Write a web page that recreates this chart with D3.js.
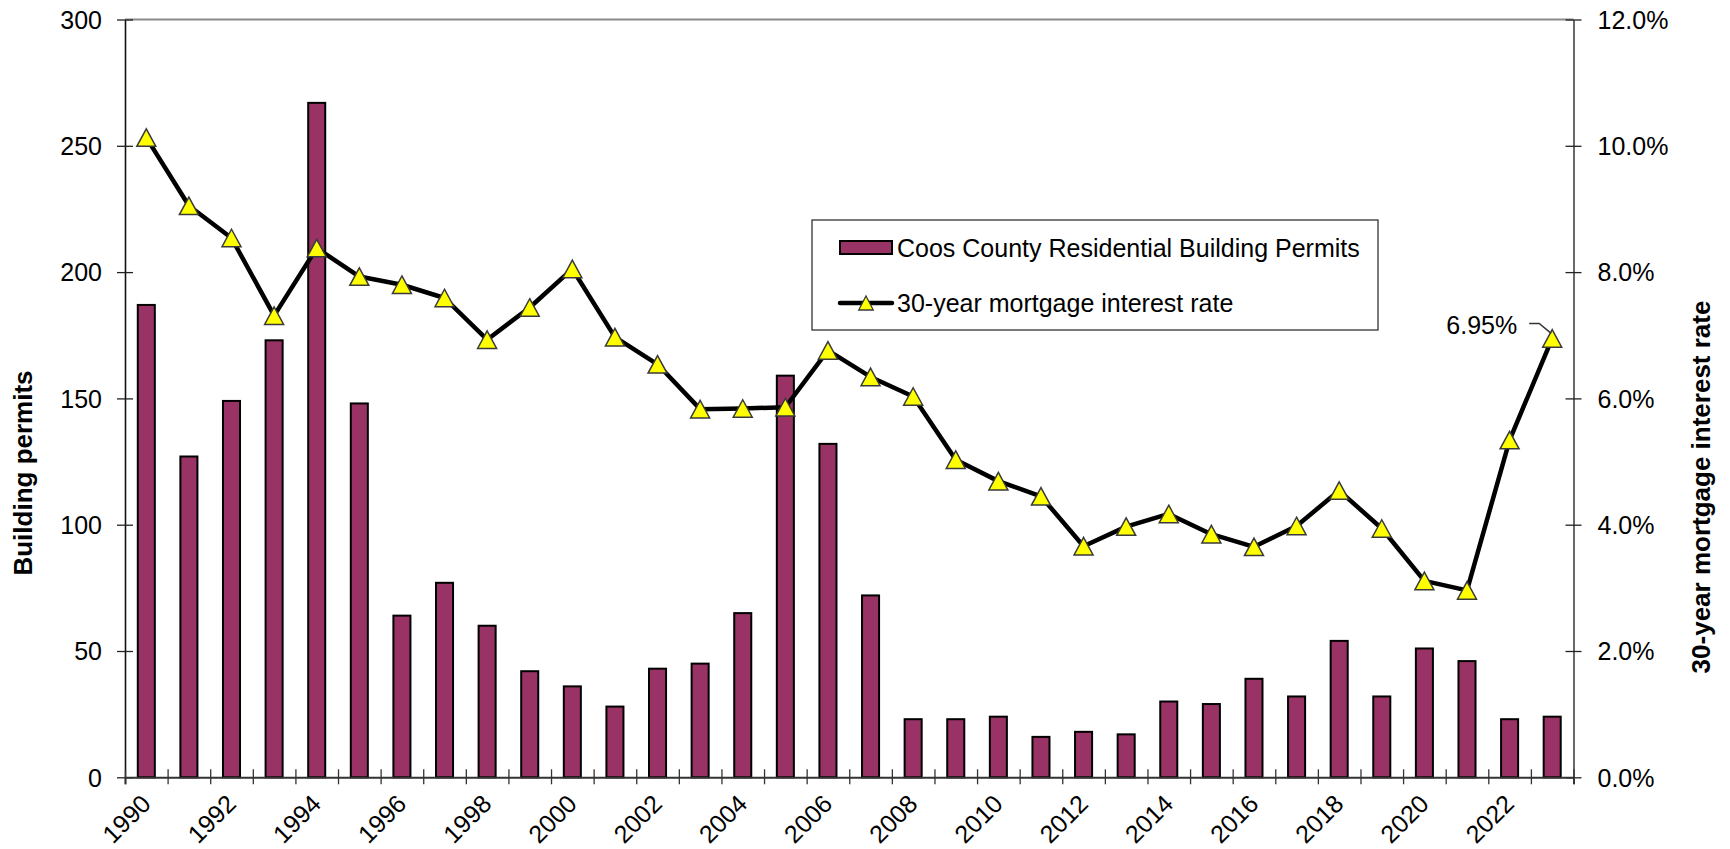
<!DOCTYPE html>
<html><head><meta charset="utf-8">
<script src="https://cdn.jsdelivr.net/npm/d3@7"></script>
<style>
html,body{margin:0;padding:0;background:#fff;}
svg{display:block;font-family:"Liberation Sans",Arial,sans-serif;}
</style>
</head><body>
<svg id="chart" width="1730" height="849"></svg>
<script>
// ---- data ----
const years = [1990,1991,1992,1993,1994,1995,1996,1997,1998,1999,2000,2001,2002,2003,2004,2005,2006,2007,2008,2009,2010,2011,2012,2013,2014,2015,2016,2017,2018,2019,2020,2021,2022,2023];
const permits = [187,127,149,173,267,148,64,77,60,42,36,28,43,45,65,159,132,72,23,23,24,16,18,17,30,29,39,32,54,32,51,46,23,24];
const rates = [10.13,9.05,8.54,7.31,8.38,7.93,7.80,7.59,6.93,7.44,8.05,6.97,6.54,5.83,5.84,5.86,6.76,6.34,6.03,5.03,4.69,4.45,3.66,3.97,4.17,3.85,3.65,3.98,4.54,3.94,3.11,2.96,5.34,6.95];
const permitTicks = [0,50,100,150,200,250,300];
const rateTicks = [0,2,4,6,8,10,12];
const xLabelYears = [1990,1992,1994,1996,1998,2000,2002,2004,2006,2008,2010,2012,2014,2016,2018,2020,2022];
const barName = "Coos County Residential Building Permits";
const lineName = "30-year mortgage interest rate";
const leftTitle = "Building permits";
const rightTitle = "30-year mortgage interest rate";

// ---- layout ----
const plot = {left:125, right:1573.5, top:19.5, bottom:777.3};
const FONT = 25;
const svg = d3.select("#chart");

const x = d3.scaleBand().domain(years).range([plot.left, plot.right]).paddingInner(0.6).paddingOuter(0.3);
const yL = d3.scaleLinear().domain([0,300]).range([plot.bottom, plot.top]);
const yR = d3.scaleLinear().domain([0,12]).range([plot.bottom, plot.top]);
const xb = d3.scaleLinear().domain([0, years.length]).range([plot.left, plot.right]);

const triW = 19, triH = 17.5;
const tri = (w,h) => `M0,${-h/2}L${w/2},${h/2}L${-w/2},${h/2}Z`;

// top border of plot area
svg.append("line").attr("x1",plot.left).attr("x2",plot.right).attr("y1",plot.top).attr("y2",plot.top)
  .attr("stroke","#8a8a8a").attr("stroke-width",2);

// bars
svg.append("g").selectAll("rect").data(years).join("rect")
  .attr("x", d => x(d)).attr("width", x.bandwidth())
  .attr("y", (d,i) => yL(permits[i])).attr("height", (d,i) => plot.bottom - yL(permits[i]))
  .attr("fill","#993366").attr("stroke","#000").attr("stroke-width",2);

// left axis
const gL = svg.append("g").attr("transform",`translate(${plot.left},0)`)
  .call(d3.axisLeft(yL).tickValues(permitTicks).tickSize(8).tickSizeOuter(0).tickPadding(15));
gL.select(".domain").attr("stroke","#111").attr("stroke-width",1.6);
gL.selectAll(".tick line").attr("x1",8).attr("stroke","#222").attr("stroke-width",1.3);
gL.selectAll(".tick text").attr("font-size",FONT).attr("font-family","Liberation Sans, Arial, sans-serif").attr("fill","#000").attr("dy","0.35em");

// right axis
const gR = svg.append("g").attr("transform",`translate(${plot.right},0)`)
  .call(d3.axisRight(yR).tickValues(rateTicks).tickSize(8).tickSizeOuter(0).tickPadding(16).tickFormat(d => d.toFixed(1)+"%"));
gR.select(".domain").attr("stroke","#444").attr("stroke-width",1.6);
gR.selectAll(".tick line").attr("x1",-8).attr("stroke","#222").attr("stroke-width",1.3);
gR.selectAll(".tick text").attr("font-size",FONT).attr("font-family","Liberation Sans, Arial, sans-serif").attr("fill","#000").attr("dy","0.35em");

// bottom axis: boundary ticks
const gB = svg.append("g").attr("transform",`translate(0,${plot.bottom})`)
  .call(d3.axisBottom(xb).tickValues(d3.range(years.length+1)).tickSize(7).tickFormat(""));
gB.select(".domain").attr("stroke","#333").attr("stroke-width",2);
gB.selectAll(".tick line").attr("y1",-8).attr("stroke","#333").attr("stroke-width",1.3);

// bottom axis: labels
const gBL = svg.append("g").attr("transform",`translate(0,${plot.bottom})`)
  .call(d3.axisBottom(x).tickValues(xLabelYears).tickSize(0));
gBL.select(".domain").remove();
gBL.selectAll(".tick text").attr("font-size",FONT).attr("font-family","Liberation Sans, Arial, sans-serif").attr("fill","#000")
  .attr("x",0).attr("y",0).attr("dy",0).attr("text-anchor","end")
  .attr("transform","translate(6,28) rotate(-45)");

// line
const cx = d => x(d) + x.bandwidth()/2;
svg.append("path").datum(years)
  .attr("d", d3.line().x(d => cx(d)).y((d,i) => yR(rates[i])))
  .attr("fill","none").attr("stroke","#000").attr("stroke-width",4.5).attr("stroke-linejoin","round");

// markers
svg.append("g").selectAll("path").data(years).join("path")
  .attr("transform",(d,i) => `translate(${cx(d)},${yR(rates[i])})`)
  .attr("d", tri(triW,triH)).attr("fill","#ffff00").attr("stroke","#3a3a3a").attr("stroke-width",1.5);

// annotation for last value
const lastI = years.length-1;
const lx = cx(years[lastI]), ly = yR(rates[lastI]);
svg.append("path")
  .attr("d", `M${lx-23},${ly-15}L${lx-13},${ly-15}L${lx-1},${ly-5}`)
  .attr("fill","none").attr("stroke","#333").attr("stroke-width",1.5);
svg.append("text").attr("x", lx-35).attr("y", ly-13).attr("dy","0.35em")
  .attr("text-anchor","end").attr("font-size",FONT).attr("fill","#000")
  .text(rates[lastI].toFixed(2)+"%");

// legend
const lg = svg.append("g");
lg.append("rect").attr("x",812).attr("y",220).attr("width",566).attr("height",110)
  .attr("fill","#fff").attr("stroke","#222").attr("stroke-width",1.2);
lg.append("rect").attr("x",840).attr("y",241).attr("width",52).attr("height",13)
  .attr("fill","#993366").attr("stroke","#000").attr("stroke-width",2);
lg.append("text").attr("x",897).attr("y",248).attr("dy","0.35em").attr("font-size",FONT).attr("fill","#000").text(barName);
lg.append("line").attr("x1",840).attr("x2",892).attr("y1",303).attr("y2",303)
  .attr("stroke","#000").attr("stroke-width",4.5).attr("stroke-linecap","round");
lg.append("path").attr("transform","translate(866,303)").attr("d", tri(14.5,14))
  .attr("fill","#ffff00").attr("stroke","#3a3a3a").attr("stroke-width",1.3);
lg.append("text").attr("x",897).attr("y",303).attr("dy","0.35em").attr("font-size",FONT).attr("fill","#000").text(lineName);

// axis titles
svg.append("text").attr("transform","translate(32,473) rotate(-90)")
  .attr("text-anchor","middle").attr("font-size",26).attr("font-weight","bold").attr("fill","#000").text(leftTitle);
svg.append("text").attr("transform","translate(1710,487) rotate(-90)")
  .attr("text-anchor","middle").attr("font-size",26).attr("font-weight","bold").attr("fill","#000").text(rightTitle);
</script>
</body></html>
